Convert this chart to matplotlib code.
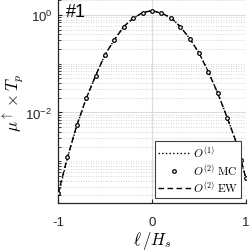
import numpy as np
import matplotlib
matplotlib.use("Agg")
import matplotlib.pyplot as plt
from matplotlib.ticker import FixedLocator, NullFormatter

plt.rcParams['font.family'] = ['Liberation Sans', 'DejaVu Sans']
plt.rcParams['mathtext.fontset'] = 'cm'

# ---- data ----
x_mc = [-1.0, -0.9, -0.8, -0.7, -0.6, -0.5, -0.4, -0.3, -0.2, -0.1, 0.0,
        0.1, 0.2, 0.3, 0.4, 0.5, 0.6, 0.7, 0.8, 0.9, 0.95, 1.0]
mu_mc = [2.24e-4, 1.23e-3, 5.5e-3, 0.0195, 0.0569, 0.153, 0.309, 0.577, 0.857, 1.114, 1.225,
         1.084, 0.881, 0.577, 0.328, 0.166, 0.0676, 0.0245, 7.76e-3, 2.40e-3, 1.05e-3, 4.47e-4]

x_line = [-1.0, -0.9, -0.8, -0.7, -0.6, -0.5, -0.4, -0.3, -0.2, -0.1, 0.0,
          0.1, 0.2, 0.3, 0.4, 0.5, 0.6, 0.7, 0.8, 0.9, 1.0]
mu_o1 = [1.9e-4, 1.15e-3, 5.3e-3, 0.0192, 0.0565, 0.152, 0.309, 0.578, 0.858, 1.11, 1.22,
         1.08, 0.88, 0.578, 0.33, 0.167, 0.068, 0.0248, 7.9e-3, 2.3e-3, 4.2e-4]
mu_ew = [2.1e-4, 1.2e-3, 5.45e-3, 0.0194, 0.0568, 0.153, 0.309, 0.577, 0.857, 1.113, 1.224,
         1.083, 0.881, 0.577, 0.329, 0.166, 0.0677, 0.0246, 7.8e-3, 2.35e-3, 4.4e-4]

ytick_vals = [1e-4, 1e-2, 1e0]
xtick_vals = [-1, 0, 1]

# ---- figure ----
fig = plt.figure(figsize=(2.49, 2.51), dpi=100)
ax = fig.add_axes([58/249, 1 - 204/251, (246 - 58)/249, 203/251])

spine_c = '#262626'
ax.plot(x_line, mu_o1, linestyle=':', color='k', lw=1.0, label=r'$O^{(1)}$', zorder=3)
ax.plot(x_mc, mu_mc, linestyle='none', marker='o', ms=2.6, mfc='white', mec='k', mew=0.9,
        label=r'$O^{(2)}\ \mathrm{MC}$', zorder=4)
ax.plot(x_line, mu_ew, linestyle=(0, (4, 2.5)), color='k', lw=1.0,
        label=r'$O^{(2)}\ \mathrm{EW}$', zorder=3)

ax.set_yscale('log')
ax.set_xlim(-1, 1)
ax.set_ylim(1.39e-4, 2.02)

ax.yaxis.set_major_locator(FixedLocator(ytick_vals))
minor = []
for k in range(-5, 1):
    for m in range(1, 10):
        v = m * 10.0**k
        if v not in ytick_vals:
            minor.append(v)
ax.yaxis.set_minor_locator(FixedLocator(minor))
ax.yaxis.set_minor_formatter(NullFormatter())
ax.set_xticks(xtick_vals)
ax.set_xticklabels(['-1', '0', '1'])

ax.grid(True, which='major', color='#dcdcdc', lw=0.8, ls='-')
ax.grid(True, which='minor', axis='y', color='#c4c4c4', lw=0.6, ls=(0, (1, 2)))
ax.set_axisbelow(True)

for s in ['top', 'right']:
    ax.spines[s].set_visible(False)
for s in ['left', 'bottom']:
    ax.spines[s].set_color(spine_c)
    ax.spines[s].set_linewidth(0.9)

ax.tick_params(which='both', direction='in', colors=spine_c, labelsize=9.5)
ax.tick_params(which='major', length=3)
ax.tick_params(which='minor', length=1.8)
ax.tick_params(axis='x', pad=9)
ax.tick_params(axis='y', pad=4)

ax.set_xlabel(r'$\ell\, / H_s$', fontsize=12, labelpad=1)
ax.set_ylabel(r'$\mu^{\uparrow} \times T_p$', fontsize=12)
ax.yaxis.set_label_coords(-0.17, 0.5)

ax.text(0.04, 0.985, '#1', transform=ax.transAxes, fontsize=13, va='top', ha='left')

leg = ax.legend(loc='lower right', fontsize=8.2, frameon=True, fancybox=False,
                edgecolor='#404040', framealpha=1, borderpad=0.25, labelspacing=0.12,
                handlelength=2.9, handletextpad=0.15, borderaxespad=0.45,
                bbox_to_anchor=(1.0, 0.0))
leg.get_frame().set_linewidth(0.8)

fig.savefig('out.png', dpi=100)
